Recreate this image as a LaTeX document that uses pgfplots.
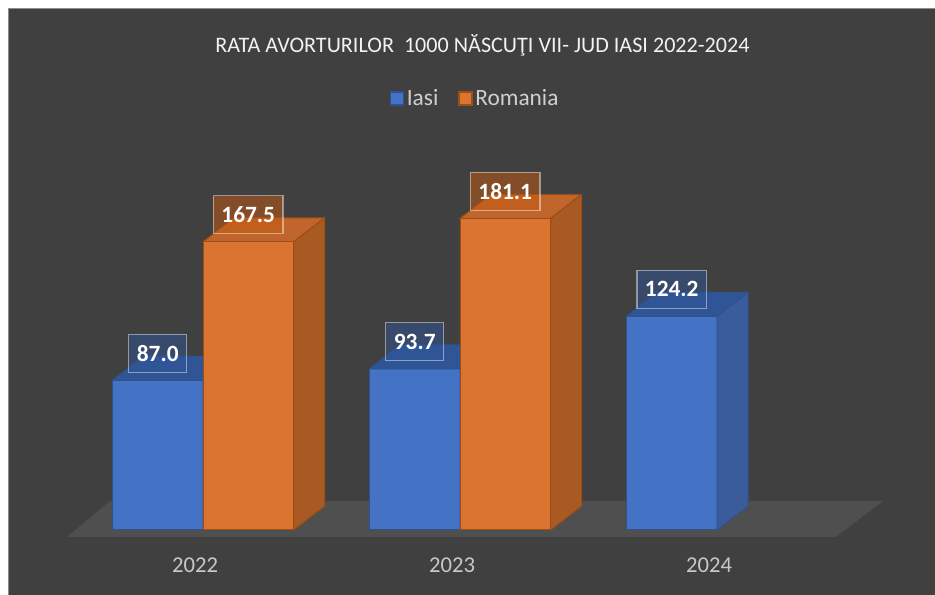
\documentclass[border=0pt]{standalone}
\usepackage{pgfplots}
\pgfplotsset{compat=1.18}
\usepackage{fontspec}
\setmainfont{Carlito}
\definecolor{bg}{HTML}{404040}
\definecolor{floorc}{HTML}{504F4F}
\definecolor{framec}{HTML}{8C8C8C}
\definecolor{bfront}{HTML}{4472C4}
\definecolor{bedge}{HTML}{2F528F}
\definecolor{btop}{HTML}{2F5597}
\definecolor{bside}{HTML}{3A5C9B}
\definecolor{ofront}{HTML}{DA7430}
\definecolor{oedge}{HTML}{9E4E14}
\definecolor{otop}{HTML}{C0652B}
\definecolor{oside}{HTML}{A95A23}
\definecolor{bbox}{HTML}{2F5597}
\definecolor{obox}{HTML}{C55A11}
\definecolor{titlec}{HTML}{F2F2F2}
\definecolor{legc}{HTML}{D0D0D0}
\definecolor{yearc}{HTML}{C8C8C8}
% top and side faces of a 3D bar, built from its centre and value
\newcommand\prismextra[5]{%
  \pgfmathsetmacro\pxl{#1-0.17607}%
  \pgfmathsetmacro\pxr{#1+0.17607}%
  \pgfmathsetmacro\pxlb{#1-0.17607+0.12062}%
  \pgfmathsetmacro\pxrb{#1+0.17607+0.12062}%
  \pgfmathsetmacro\pyt{#2+13.953}%
  \edef\doplot{%
    \noexpand\addplot[fill=#3,draw=#5,line width=0.75pt,line join=round,mark=none,forget plot]
      coordinates {(\pxl,#2) (\pxr,#2) (\pxrb,\pyt) (\pxlb,\pyt)} -- cycle;
    \noexpand\addplot[fill=#4,draw=#5,line width=0.75pt,line join=round,mark=none,forget plot]
      coordinates {(\pxr,0) (\pxr,#2) (\pxrb,\pyt) (\pxrb,13.953)} -- cycle;}%
  \doplot
}
\begin{document}
\begin{tikzpicture}
\begin{scope}[x=0.75pt,y=0.75pt]
  \fill[white] (0,0) rectangle (935,595);
  \fill[bg] (8,0) rectangle (935,587);
  \draw[framec,line width=0.9pt] (8.5,0) -- (8.5,586.5) -- (935,586.5);
\end{scope}
\begin{axis}[
  at={(0,0)}, anchor=south west,
  scale only axis, width=701.25pt, height=446.25pt,
  xmin=-0.78988, xmax=2.84825, ymin=-37.791, ymax=308.140,
  axis line style={draw=none}, tick style={draw=none},
  ytick=\empty, xtick={0,1,2}, xticklabels={2022,2023,2024},
  xticklabel style={anchor=center, yshift=22.5pt, xshift=-6pt,
    font=\fontsize{17}{20}\selectfont, text=yearc},
  clip=false,
  /pgf/number format/assume math mode=true,
  legend style={at={(axis cs:1.0603,250.87)}, anchor=center, draw=none, fill=none,
    legend columns=-1, font=\fontsize{17.5}{20}\selectfont, text=legc,
    /tikz/every even column/.append style={column sep=13pt}},
]
% floor
\addplot[fill=floorc, draw=none, mark=none, forget plot]
  coordinates {(-0.5292,-4.07) (2.4630,-4.07) (2.6459,16.86) (-0.3619,16.86)} -- cycle;
% Iasi: front faces
\addplot[ybar, bar width=0.35214, bar shift=-0.17607, fill=bfront, draw=bedge, line width=0.75pt,
  legend image code/.code={\draw[fill=bfront,draw=bedge,line width=1pt] (0pt,-4.875pt) rectangle (9.75pt,4.875pt);},
  nodes near coords,
  /pgf/number format/.cd, fixed, fixed zerofill, precision=1, /pgfplots/.cd,
  every node near coord/.append style={anchor=south, xshift=-33.94pt, yshift=5.6pt, fill=bbox, fill opacity=0.5,
    text opacity=1, draw=white, draw opacity=0.45, line width=0.9pt, text=white,
    font=\bfseries\fontsize{17.5}{21}\selectfont, minimum height=28.5pt, inner xsep=6pt, inner ysep=0pt}]
  coordinates {(0,87.0) (1,93.7) (2,124.2)};
\addlegendentry{Iasi}
\prismextra{-0.17607}{87.0}{btop}{bside}{bedge}
\prismextra{0.82393}{93.7}{btop}{bside}{bedge}
\prismextra{1.82393}{124.2}{btop}{bside}{bedge}
% Romania: top and side faces first, then front faces
\prismextra{0.17607}{167.5}{otop}{oside}{oedge}
\prismextra{1.17607}{181.1}{otop}{oside}{oedge}
\addplot[ybar, bar width=0.35214, bar shift=0.17607, fill=ofront, draw=oedge, line width=0.75pt,
  legend image code/.code={\draw[fill=ofront,draw=oedge,line width=1pt] (0pt,-4.875pt) rectangle (9.75pt,4.875pt);},
  nodes near coords,
  /pgf/number format/.cd, fixed, fixed zerofill, precision=1, /pgfplots/.cd,
  every node near coord/.append style={anchor=south, xshift=33.94pt, yshift=5.6pt, fill=obox, fill opacity=0.5,
    text opacity=1, draw=white, draw opacity=0.45, line width=0.9pt, text=white,
    font=\bfseries\fontsize{17.5}{21}\selectfont, minimum height=28.5pt, inner xsep=6pt, inner ysep=0pt}]
  coordinates {(0,167.5) (1,181.1)};
\addlegendentry{Romania}
\node[text=titlec, font=\fontsize{16.6}{19}\selectfont, anchor=center]
  at (axis cs:1.0875,281.98) {RATA AVORTURILOR\ \ 1000 NĂSCUŢI VII- JUD IASI 2022-2024};
\end{axis}
\begin{scope}[x=0.75pt,y=0.75pt]
  \pgfresetboundingbox
  \path (0,0) rectangle (935,595);
\end{scope}
\end{tikzpicture}
\end{document}
